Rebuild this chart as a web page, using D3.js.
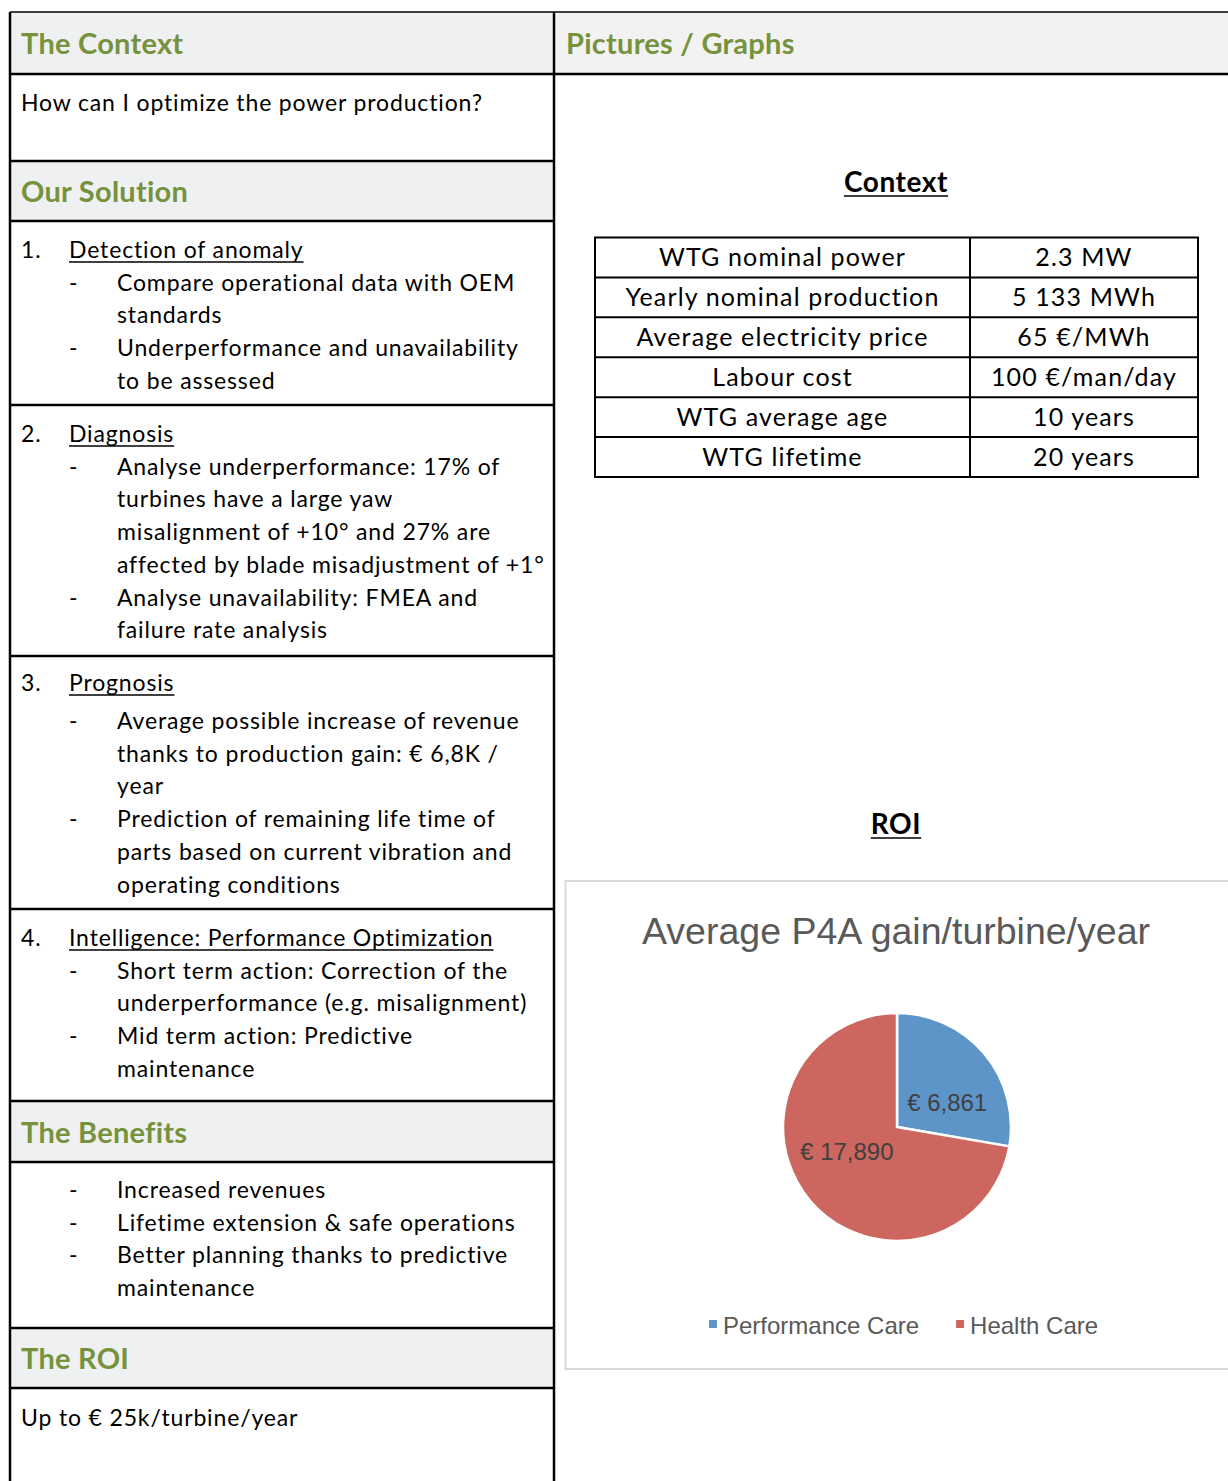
<!DOCTYPE html>
<html lang="en">
<head>
  <meta charset="UTF-8">
  <title>P4A – Context, Solution, ROI</title>
  <script src="https://cdnjs.cloudflare.com/ajax/libs/d3/7.8.5/d3.min.js"></script>
  <style>
    body { margin: 0; padding: 0; background: #fff; }
    svg { display: block; }
    .body-text { font-family: Lato, "Open Sans", sans-serif; font-size: 23px; letter-spacing: 0.85px; fill: #000; }
    .table-text { font-family: Lato, "Open Sans", sans-serif; font-size: 25px; letter-spacing: 1.15px; fill: #000; }
    .head-text { font-family: Lato, "Open Sans", sans-serif; font-size: 29px; letter-spacing: 0.25px; font-weight: bold; fill: #76923c; }
    .title-text { font-family: Lato, "Open Sans", sans-serif; font-size: 28px; letter-spacing: 0.6px; font-weight: bold; fill: #000; }
    .chart-text { font-family: "Liberation Sans", Arial, sans-serif; }
  </style>
</head>
<body>
<svg id="page" width="1228" height="1481"></svg>

<script>
  // ---- content ----
  const headers = ["The Context", "Our Solution", "The Benefits", "The ROI"];
  const rightHeader = "Pictures / Graphs";
  const contextQuestion = "How can I optimize the power production?";
  const steps = [
    { num: "1.", title: "Detection of anomaly",
      bullets: [["Compare operational data with OEM", "standards"],
                ["Underperformance and unavailability", "to be assessed"]] },
    { num: "2.", title: "Diagnosis",
      bullets: [["Analyse underperformance: 17% of", "turbines have a large yaw",
                 "misalignment of +10° and 27% are", "affected by blade misadjustment of +1°"],
                ["Analyse unavailability: FMEA and", "failure rate analysis"]] },
    { num: "3.", title: "Prognosis",
      bullets: [["Average possible increase of revenue", "thanks to production gain: € 6,8K /", "year"],
                ["Prediction of remaining life time of", "parts based on current vibration and", "operating conditions"]] },
    { num: "4.", title: "Intelligence: Performance Optimization",
      bullets: [["Short term action: Correction of the", "underperformance (e.g. misalignment)"],
                ["Mid term action: Predictive", "maintenance"]] }
  ];
  const benefits = [["Increased revenues"], ["Lifetime extension & safe operations"],
                    ["Better planning thanks to predictive", "maintenance"]];
  const roiText = "Up to € 25k/turbine/year";

  const tableLabels = ["WTG nominal power", "Yearly nominal production", "Average electricity price",
                       "Labour cost", "WTG average age", "WTG lifetime"];
  const tableValues = ["2.3 MW", "5 133 MWh", "65 €/MWh", "100 €/man/day", "10 years", "20 years"];

  const pieTitle = "Average P4A gain/turbine/year";
  const pieCategories = ["Performance Care", "Health Care"];
  const pieValues = [6861, 17890];
  const pieColors = ["#5d95c9", "#cc665e"];

  // ---- layout ----
  const svg = d3.select("#page");
  const leftX = 10, midX = 554, rightX = 1240, topY = 12;
  // row boundaries of the left column
  const rows = [12, 74, 161, 221, 405, 656, 909, 1101, 1162, 1328, 1388, 1500];
  const headerRows = [0, 2, 7, 9];   // index of header rows in `rows`
  const lineH = 32.7;

  // header backgrounds
  headerRows.forEach(i => {
    svg.append("rect").attr("x", leftX).attr("y", rows[i]).attr("width", midX - leftX)
      .attr("height", rows[i + 1] - rows[i]).attr("fill", "#eff0f1");
  });
  svg.append("rect").attr("x", midX).attr("y", rows[0]).attr("width", rightX - midX)
    .attr("height", rows[1] - rows[0]).attr("fill", "#f2f2f2");

  // grid lines
  rows.slice(1, -1).forEach(y => {
    svg.append("line").attr("x1", leftX).attr("x2", midX).attr("y1", y).attr("y2", y)
      .attr("stroke", "#000").attr("stroke-width", 2.5);
  });
  svg.append("line").attr("x1", midX).attr("x2", rightX).attr("y1", rows[1]).attr("y2", rows[1])
    .attr("stroke", "#000").attr("stroke-width", 2.5);
  svg.append("line").attr("x1", leftX).attr("x2", rightX).attr("y1", topY).attr("y2", topY)
    .attr("stroke", "#000").attr("stroke-width", 1.5);
  [leftX, midX].forEach(x => {
    svg.append("line").attr("x1", x).attr("x2", x).attr("y1", topY).attr("y2", 1481)
      .attr("stroke", "#000").attr("stroke-width", 2.5);
  });

  // headers
  headerRows.forEach((ri, k) => {
    svg.append("text").attr("class", "head-text").attr("x", 21)
      .attr("y", (rows[ri] + rows[ri + 1]) / 2 + 11).text(headers[k]);
  });
  svg.append("text").attr("class", "head-text").attr("x", 566).attr("y", 54).text(rightHeader);

  // body helpers
  function underlined(x, y, str, cls, anchor) {
    const t = svg.append("text").attr("class", cls).attr("x", x).attr("y", y)
      .attr("text-anchor", anchor || "start").text(str);
    const w = t.node().getComputedTextLength();
    const x0 = anchor === "middle" ? x - w / 2 : x;
    svg.append("line").attr("x1", x0).attr("x2", x0 + w).attr("y1", y + 4).attr("y2", y + 4)
      .attr("stroke", "#000").attr("stroke-width", 1.4);
    return t;
  }
  function bulletList(y0, list) {
    let y = y0;
    list.forEach(lines => {
      svg.append("text").attr("class", "body-text").attr("x", 69).attr("y", y).text("-");
      lines.forEach(l => {
        svg.append("text").attr("class", "body-text").attr("x", 117).attr("y", y).text(l);
        y += lineH;
      });
    });
  }

  svg.append("text").attr("class", "body-text").attr("x", 21).attr("y", rows[1] + 37).text(contextQuestion);

  steps.forEach((s, i) => {
    const y = rows[3 + i] + (i === 2 ? 35 : 37);
    svg.append("text").attr("class", "body-text").attr("x", 21).attr("y", y).text(s.num);
    underlined(69, y, s.title, "body-text");
    bulletList(y + (i === 2 ? 38 : lineH), s.bullets);
  });

  bulletList(rows[8] + 36, benefits);
  svg.append("text").attr("class", "body-text").attr("x", 21).attr("y", rows[10] + 38).text(roiText);

  // ---- right column: context table ----
  const cx = 896;
  underlined(cx, 192, "Context", "title-text", "middle");

  const tX = [595, 970, 1198];
  const rowY = d3.scaleLinear().domain([0, tableLabels.length]).range([237.5, 477]);
  svg.append("rect").attr("x", tX[0]).attr("y", rowY(0)).attr("width", tX[2] - tX[0])
    .attr("height", rowY(tableLabels.length) - rowY(0)).attr("fill", "none")
    .attr("stroke", "#000").attr("stroke-width", 2);
  svg.append("line").attr("x1", tX[1]).attr("x2", tX[1]).attr("y1", rowY(0)).attr("y2", rowY(tableLabels.length))
    .attr("stroke", "#000").attr("stroke-width", 2);
  d3.range(1, tableLabels.length).forEach(i => {
    svg.append("line").attr("x1", tX[0]).attr("x2", tX[2]).attr("y1", rowY(i)).attr("y2", rowY(i))
      .attr("stroke", "#000").attr("stroke-width", 2);
  });
  tableLabels.forEach((l, i) => {
    const y = (rowY(i) + rowY(i + 1)) / 2 + 8.5;
    svg.append("text").attr("class", "table-text").attr("x", (tX[0] + tX[1]) / 2).attr("y", y)
      .attr("text-anchor", "middle").text(l);
    svg.append("text").attr("class", "table-text").attr("x", (tX[1] + tX[2]) / 2).attr("y", y)
      .attr("text-anchor", "middle").text(tableValues[i]);
  });

  underlined(cx, 834, "ROI", "title-text", "middle");

  // ---- pie chart ----
  svg.append("rect").attr("x", 565.5).attr("y", 881).attr("width", 700).attr("height", 488)
    .attr("fill", "#fff").attr("stroke", "#d9d9d9").attr("stroke-width", 2);
  svg.append("text").attr("class", "chart-text").attr("x", cx).attr("y", 944)
    .attr("text-anchor", "middle").style("font-size", "37.5px").attr("fill", "#595959").text(pieTitle);

  const pc = { x: 897, y: 1127 }, radius = 114;
  const pie = d3.pie().sort(null).value(d => d);
  const arc = d3.arc().innerRadius(0).outerRadius(radius);
  const color = d3.scaleOrdinal().domain(pieCategories).range(pieColors);
  const fmt = d3.format(",");
  const gp = svg.append("g").attr("transform", `translate(${pc.x},${pc.y})`);
  const arcs = pie(pieValues);
  gp.selectAll("path").data(arcs).join("path")
    .attr("d", arc).attr("fill", (d, i) => color(pieCategories[i]))
    .attr("stroke", "#fff").attr("stroke-width", 2.5).attr("stroke-linejoin", "round");

  // best-fit style labels: pulled a little toward the horizontal
  function labelPos(d) {
    const mid = (d.startAngle + d.endAngle) / 2;
    const target = mid < Math.PI ? Math.PI / 2 : 3 * Math.PI / 2;
    const a = mid + 0.35 * (target - mid);
    const r = radius * 0.49;
    return [Math.sin(a) * r, -Math.cos(a) * r];
  }
  gp.selectAll("text").data(arcs).join("text")
    .attr("class", "chart-text")
    .attr("transform", d => `translate(${labelPos(d)})`)
    .attr("text-anchor", "middle").attr("dy", "0.35em")
    .style("font-size", "24px").attr("fill", "#404040")
    .text(d => "€ " + fmt(d.data));

  // legend
  const legend = svg.append("g").attr("transform", "translate(709,1325)");
  let lx = 0;
  pieCategories.forEach(c => {
    const g = legend.append("g").attr("transform", `translate(${lx},0)`);
    g.append("rect").attr("x", 0).attr("y", -5).attr("width", 8).attr("height", 8).attr("fill", color(c));
    const t = g.append("text").attr("class", "chart-text").attr("x", 14).attr("y", 8.5)
      .style("font-size", "24px").attr("fill", "#595959").text(c);
    lx += 14 + t.node().getComputedTextLength() + 37;
  });
</script>
</body>
</html>
